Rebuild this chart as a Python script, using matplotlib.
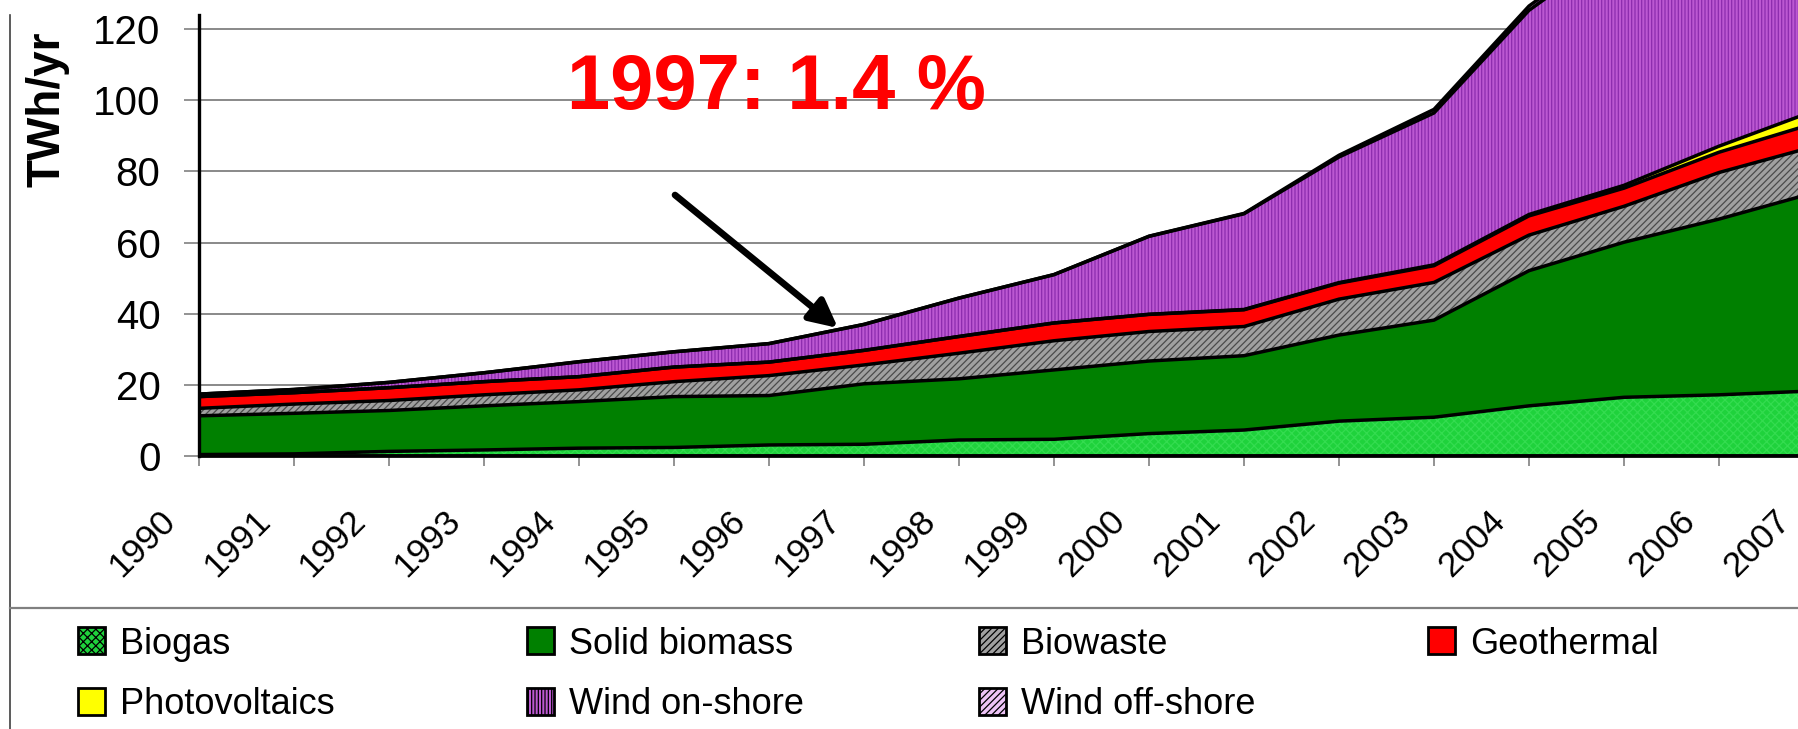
import numpy as np
import matplotlib
matplotlib.use("Agg")
import matplotlib.pyplot as plt
from matplotlib.patches import Rectangle
from matplotlib.lines import Line2D
from matplotlib.transforms import ScaledTranslation

plt.rcParams['font.family'] = ['Liberation Sans', 'DejaVu Sans']
plt.rcParams['hatch.linewidth'] = 0.9

years = list(range(1990, 2008))
biogas = [0.4, 0.6, 1.3, 1.7, 2.2, 2.4, 3.1, 3.3, 4.5, 4.7, 6.3, 7.3, 9.8, 10.9, 14.1, 16.5, 17.2, 18.3]
solid_biomass = [10.9, 11.4, 11.5, 12.4, 13.1, 14.3, 13.9, 17.0, 17.2, 19.5, 20.4, 20.9, 24.2, 27.3, 38.0, 43.6, 49.4, 55.7]
biowaste = [2.1, 2.6, 2.8, 3.1, 3.3, 4.2, 5.6, 5.3, 7.2, 8.2, 8.3, 8.2, 10.1, 10.6, 10.0, 10.1, 13.1, 13.0]
geothermal = [3.3, 3.2, 3.6, 3.7, 3.7, 4.1, 3.8, 4.1, 4.7, 5.0, 4.8, 4.7, 4.5, 4.7, 5.4, 5.1, 5.7, 6.5]
photovoltaics = [0, 0, 0, 0, 0, 0, 0, 0, 0, 0, 0.05, 0.1, 0.15, 0.25, 0.4, 0.8, 1.7, 3.5]
wind_onshore = [0.7, 0.9, 1.5, 2.5, 4.2, 4.3, 5.2, 7.3, 10.8, 13.6, 21.9, 26.9, 35.3, 42.7, 57.4, 68.4, 76.2, 86.2]
wind_offshore = [0, 0, 0, 0, 0, 0, 0, 0, 0, 0, 0.05, 0.1, 0.5, 1.0, 1.2, 1.5, 1.8, 2.0]

series_names = ["Biogas", "Solid biomass", "Biowaste", "Geothermal",
                "Photovoltaics", "Wind on-shore", "Wind off-shore"]
series_values = [biogas, solid_biomass, biowaste, geothermal,
                 photovoltaics, wind_onshore, wind_offshore]
y_ticks = [0, 20, 40, 60, 80, 100, 120]
annotation_text = "1997: 1.4 %"
y_label = "TWh/yr"

# style: (facecolor, hatch, hatchcolor)
styles = [
    ("#1FD23C", "xxxx", "#34DC50"),
    ("#008000", None, "#008000"),
    ("#A0A0A0", "/////", "#4A4A4A"),
    ("#FF0000", None, "#FF0000"),
    ("#FFFF00", None, "#FFFF00"),
    ("#BC58D2", "|||||", "#8C2CAE"),
    ("#EEC4F7", "/////", "#A040C0"),
]

W, H = 1798, 729
fig = plt.figure(figsize=(W / 100, H / 100), dpi=100)
x0_px, y0_px = 199, 456
x_end_px = 199 + 95 * 17
ax = fig.add_axes([x0_px / W, 1 - y0_px / H, (x_end_px - x0_px) / W, y0_px / H])
ax.set_xlim(1990, 2007)
ax.set_ylim(0, y0_px / 3.557)

x = np.array(years, dtype=float)
lower = np.zeros(len(years))
for vals, (fc, hatch, hc) in zip(series_values, styles):
    upper = lower + np.array(vals)
    ax.fill_between(x, lower, upper, facecolor=fc, hatch=hatch, edgecolor=hc,
                    linewidth=0, zorder=2)
    lower = upper
lower = np.zeros(len(years))
ax.plot(x, lower, color='black', lw=2.8, zorder=3, solid_capstyle='butt')
for vals in series_values:
    upper = lower + np.array(vals)
    ax.plot(x, upper, color='black', lw=2.5, zorder=3, solid_joinstyle='round')
    lower = upper

# axes styling
ax.set_axisbelow(True)
ax.yaxis.grid(True, color='#808080', lw=1.3)
ax.set_yticks(y_ticks)
ax.set_yticklabels([str(v) for v in y_ticks], fontsize=29)
ax.set_xticks(years)
ax.set_xticklabels([str(y) for y in years], fontsize=25.5, rotation=45, ha='right')
ax.tick_params(axis='y', length=10.8, width=1.2, color='#808080', pad=17)
ax.tick_params(axis='x', length=7.5, width=1.2, color='#808080', pad=27)
off = ScaledTranslation(-17 / 100, 0, fig.dpi_scale_trans)
for lab in ax.get_xticklabels():
    lab.set_transform(lab.get_transform() + off)
for s in ['top', 'right']:
    ax.spines[s].set_visible(False)
ax.spines['left'].set_linewidth(2.4)
ax.spines['left'].set_bounds(0, 124)
ax.spines['bottom'].set_linewidth(2.0)
ax.spines['left'].set_zorder(4)

fig.text(47 / W, 1 - 109 / H, y_label, rotation=90, fontsize=33, fontweight='bold',
         ha='center', va='center')

fig.text(776 / W, 1 - 109 / H, annotation_text, fontsize=56, fontweight='bold',
         color='#FF0000', ha='center', va='baseline')
ax.annotate('', xy=(838 / W, 1 - 328 / H), xytext=(675 / W, 1 - 195 / H),
            xycoords='figure fraction', textcoords='figure fraction',
            arrowprops=dict(arrowstyle='-|>', lw=4.8, color='black',
                            mutation_scale=42, shrinkA=0, shrinkB=0))

# frame lines
fig.add_artist(Line2D([9.5 / W, 9.5 / W], [0, 1 - 15 / H], color='#404040', lw=1.2,
                      transform=fig.transFigure))
fig.add_artist(Line2D([9.5 / W, 1], [1 - 608 / H, 1 - 608 / H], color='#808080', lw=1.6,
                      transform=fig.transFigure))

# legend
col_x = [78, 527, 979, 1428]
row_y = [640, 701]
box = 27
for i, (name, (fc, hatch, hc)) in enumerate(zip(series_names, styles)):
    r, c = divmod(i, 4)
    bx, by = col_x[c], row_y[r]
    rect = Rectangle((bx / W, 1 - (by + box / 2) / H), box / W, box / H,
                     transform=fig.transFigure, facecolor=fc, hatch=hatch,
                     edgecolor='black', linewidth=2.0)
    fig.add_artist(rect)
    fig.text((bx + 42) / W, 1 - by / H, name, fontsize=26, ha='left', va='center_baseline')

fig.savefig("out.png", dpi=100)
